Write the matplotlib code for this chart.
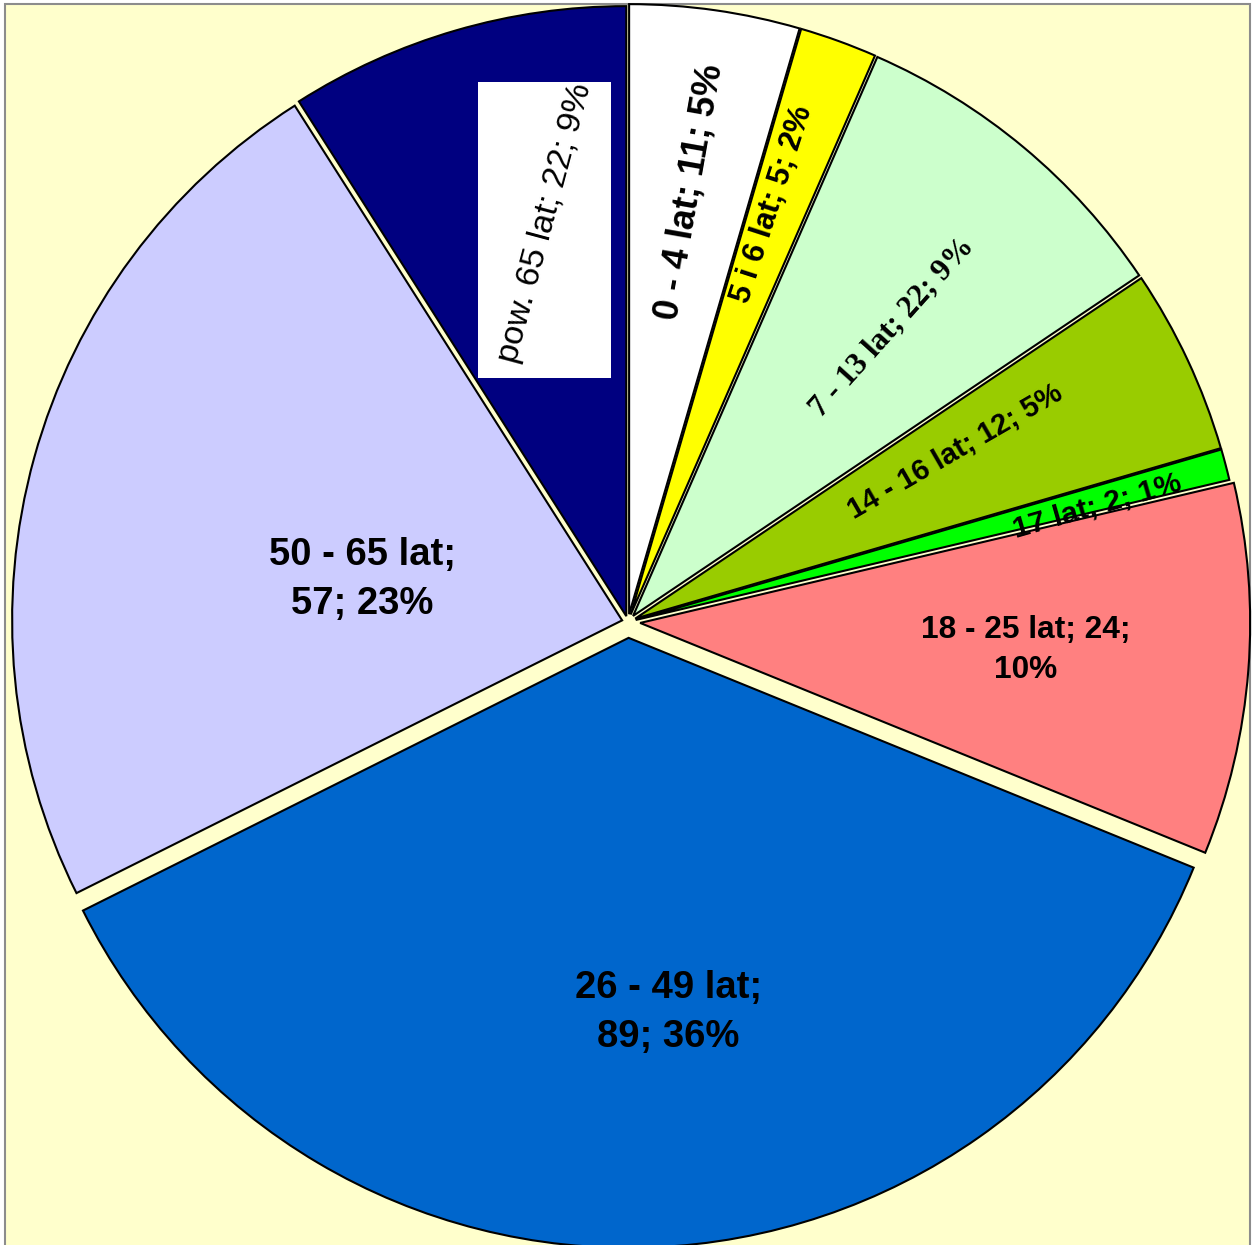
import numpy as np
import matplotlib
matplotlib.use("Agg")
import matplotlib.pyplot as plt
from matplotlib.patches import Rectangle

# dane
labels = ["0 - 4 lat", "5 i 6 lat", "7 - 13 lat", "14 - 16 lat", "17 lat",
          "18 - 25 lat", "26 - 49 lat", "50 - 65 lat", "pow. 65 lat"]
values = [11, 5, 22, 12, 2, 24, 89, 57, 22]
colors = ["#FFFFFF", "#FFFF00", "#CCFFCC", "#99CC00", "#00FF00",
          "#FF8080", "#0066CC", "#CCCCFF", "#000080"]

# wyglad
W, H = 1253, 1245
R = 610.0                  # promien w pikselach
cx, cy = 628.0, 623.0      # srodek (od dolu)
explode = [0.013, 0.013, 0.013, 0.013, 0.013, 0.02, 0.026, 0.01, 0.01]
lab_r = [0.70, 0.711, 0.636, 0.592, 0.779, 0.633, 0.618, 0.431, 0.658]
lab_dang = [0, 0.8, -2.1, 2.5, -0.9, 0.4, 3.8, 6.5, -4.6]
lab_rot = [80, 72, 48, 30, 16, 0, 0, 0, 75]
lab_size = [26, 22.3, 22.5, 21, 21.6, 22.8, 27.5, 27.5, 24.5]
lab_ls = [1.2] * 5 + [1.4, 1.45, 1.45, 1.2]
lab_break = [None, None, None, None, None, 2, 1, 1, None]
lab_family = ["Liberation Sans"] * 9
lab_family[2] = "Liberation Serif"
lab_weight = ["bold"] * 8 + ["normal"]

total = sum(values)

fig = plt.figure(figsize=(W / 100, H / 100), dpi=100)
fig.patch.set_facecolor("white")

ax = fig.add_axes([0, 0, 1, 1])
ax.set_facecolor("none")
ax.axis("off")

# tlo wykresu
ax.add_patch(Rectangle((5 / W, -0.01), (W - 8) / W, (H - 4) / H + 0.01,
                       transform=fig.transFigure, facecolor="#FFFFCC",
                       edgecolor="#8C8C8C", lw=1.5, zorder=-10, clip_on=False))

wedges, _ = ax.pie(values, colors=colors, explode=explode, startangle=90,
                   counterclock=False, radius=1,
                   wedgeprops=dict(edgecolor="black", linewidth=1.5))
ax.set_aspect("auto")
ax.set_xlim(-cx / R, (W - cx) / R)
ax.set_ylim(-cy / R, (H - cy) / R)

# biale tlo pod etykieta "pow. 65 lat"
ax.add_patch(Rectangle((478 / W, (H - 378) / H), 133 / W, 296 / H,
                       transform=fig.transFigure, facecolor="white",
                       edgecolor="none", zorder=5, clip_on=False))

for i, w in enumerate(wedges):
    th = np.deg2rad((w.theta1 + w.theta2) / 2 + lab_dang[i])
    x0, y0 = w.center
    x = x0 + lab_r[i] * np.cos(th)
    y = y0 + lab_r[i] * np.sin(th)
    pct = round(values[i] / total * 100)
    parts = [labels[i], str(values[i]), f"{pct}%"]
    if lab_break[i] is None:
        txt = "; ".join(parts)
    else:
        b = lab_break[i]
        txt = "; ".join(parts[:b]) + ";\n" + "; ".join(parts[b:])
    ax.text(x, y, txt, ha="center", va="center", rotation=lab_rot[i],
            rotation_mode="anchor", fontsize=lab_size[i],
            family=lab_family[i], weight=lab_weight[i], color="black",
            linespacing=lab_ls[i], multialignment="center", zorder=10)

fig.savefig("out.png", dpi=100)
